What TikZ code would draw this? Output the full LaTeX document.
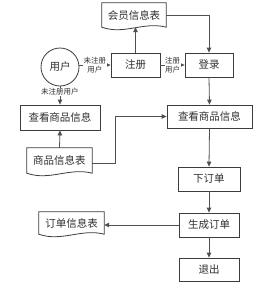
\documentclass[tikz,border=0pt]{standalone}
\usepackage{fontspec}
\newfontfamily\cjk{Noto Sans CJK SC}
\usetikzlibrary{arrows.meta,calc,shadows}
\definecolor{ln}{HTML}{505050}
\definecolor{bd}{HTML}{3C3C3C}
\definecolor{tx}{HTML}{303030}
\tikzset{
  base/.style={font=\cjk\fontsize{10.5}{12}\selectfont, text=tx, inner sep=0pt},
  box/.style={base, draw=bd, line width=0.8pt, fill=white, minimum height=24pt,
    drop shadow={shadow xshift=1.2pt, shadow yshift=-1.2pt, fill=black!35, opacity=0.6}},
  docnode/.style={base, minimum height=24pt},
  docline/.style={draw=bd, line width=0.8pt, fill=white},
  arr/.style={draw=ln, line width=0.8pt, -{Triangle[length=5pt,width=4.5pt]}},
  conn/.style={draw=ln, line width=0.8pt},
  lab/.style={font=\cjk\fontsize{7.5}{8.5}\selectfont, text=tx, fill=white, inner sep=0.5pt, align=center},
  usr/.style={base, draw=bd, line width=0.8pt, circle, minimum size=38pt, fill=white}
}
\newcommand{\docframe}[1]{%
  \path[docline] (#1.north west) -- (#1.north east) -- (#1.south east)
    .. controls ($(#1.south east)!0.35!(#1.south west)+(0,-6)$)
    and ($(#1.south east)!0.65!(#1.south west)+(0,8)$) .. (#1.south west) -- cycle;
  \node[base] at (#1) {\csname doctext#1\endcsname};}
\begin{document}
\begin{tikzpicture}[x=1pt,y=-1pt]
\useasboundingbox (0,0) rectangle (280,298);
% documents
\node[docnode, minimum width=64pt, minimum height=24pt] (vip) at (134,15) {};
\node[docnode, minimum width=65pt, minimum height=25pt] (gd) at (59.5,160.5) {};
\node[docnode, minimum width=65pt, minimum height=22pt] (dd) at (71.5,223) {};
\expandafter\def\csname doctextvip\endcsname{会员信息表}
\expandafter\def\csname doctextgd\endcsname{商品信息表}
\expandafter\def\csname doctextdd\endcsname{订单信息表}
\docframe{vip}
\docframe{gd}
\docframe{dd}
% boxes
\node[usr] (user) at (60,67) {用户};
\node[box, minimum width=49pt] (zc) at (135.5,65) {注册};
\node[box, minimum width=48pt] (dl) at (209,65) {登录};
\node[box, minimum width=80pt, minimum height=25pt] (ck1) at (60,117.5) {查看商品信息};
\node[box, minimum width=85pt, minimum height=23pt] (ck2) at (209.5,116.5) {查看商品信息};
\node[box, minimum width=62pt] (xd) at (209,179) {下订单};
\node[box, minimum width=60pt] (sc) at (209,225) {生成订单};
\node[box, minimum width=60pt, minimum height=23pt] (tc) at (209,269.5) {退出};
% connectors
\draw[arr] (zc.north) -- (zc.north |- vip.south);
\draw[arr] (vip.east) -| (dl.north);
\draw[arr] (user.east |- zc.west) -- node[lab] {未注册\\用户} (zc.west);
\draw[arr] (zc.east) -- node[lab] {注册\\用户} (dl.west);
\draw[arr] (user.south) -- node[lab, pos=0.3] {未注册用户} (ck1.north);
\draw[arr] (gd.north) -- (ck1.south);
\coordinate (bend) at (115,163);
\draw[arr] (gd.east |- bend) -- (bend) |- (ck2.west);
\draw[arr] (dl.south) -- (ck2.north);
\draw[arr] (ck2.south) -- (xd.north);
\draw[arr] (xd.south) -- (sc.north);
\draw[arr] (sc.west) -- (sc.west -| dd.east);
\draw[arr] (sc.south) -- (tc.north);
\end{tikzpicture}
\end{document}
